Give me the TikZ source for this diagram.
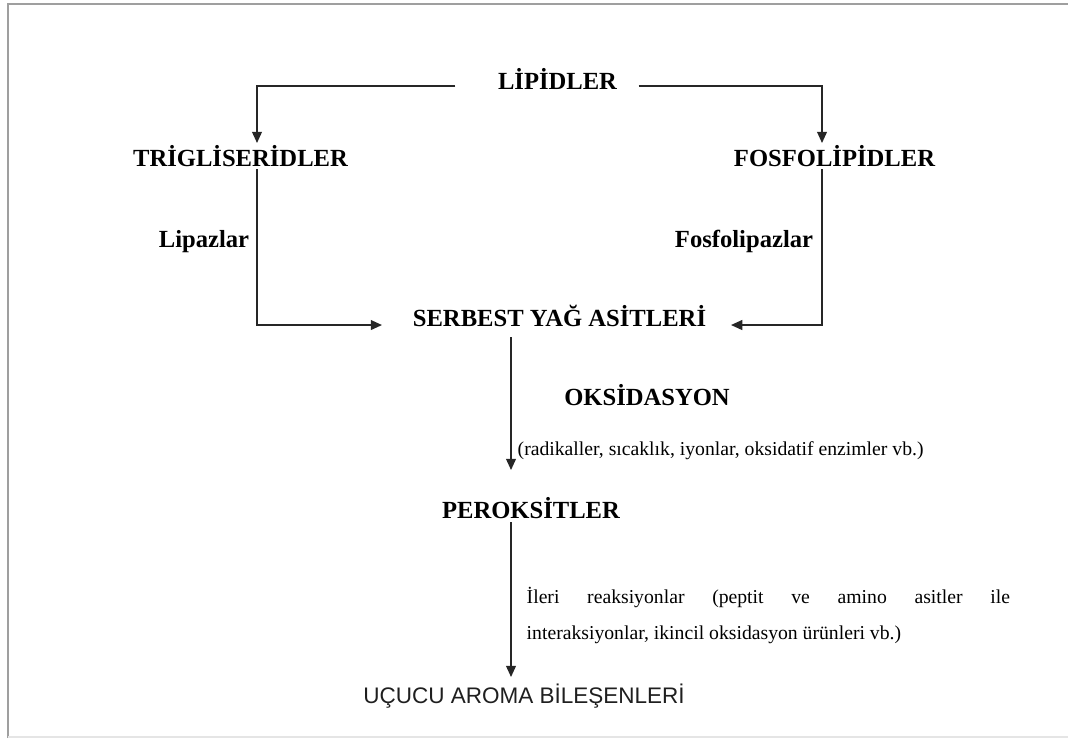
\documentclass[tikz,border=0pt]{standalone}
\usepackage{fontspec}
\setmainfont{Liberation Serif}
\newfontfamily\arialfont{Liberation Sans}
\usetikzlibrary{arrows.meta}
\tikzset{>={Triangle[length=3.2pt,width=2.8pt]}}
\tikzstyle{head} = [font=\fontsize{7}{8.4}\selectfont\bfseries, inner sep=0pt, anchor=base]
\tikzstyle{note} = [font=\fontsize{5.6}{7}\selectfont, inner sep=0pt, anchor=base west]
\tikzstyle{flow} = [->, line width=0.45pt, black!85]

\begin{document}
\begin{tikzpicture}[x=0.01cm,y=-0.01cm]
\useasboundingbox (0,0) rectangle (1068,738);
    %frame
    \draw [gray!75, line width=0.6pt] (8,738) -- (8,4) -- (1068,4);
    \draw [gray!20, line width=0.6pt] (8,737) -- (1068,737);
    %labels
    \node[head] (lip) at (557.5,89) {LİPİDLER};
    \node[head] (trig) at (240.5,166) {TRİGLİSERİDLER};
    \node[head] (fosf) at (834.5,166) {FOSFOLİPİDLER};
    \node[head] (lipaz) at (204,247) {Lipazlar};
    \node[head] (fosfaz) at (744,247) {Fosfolipazlar};
    \node[head] (sya) at (559.5,326) {SERBEST YAĞ ASİTLERİ};
    \node[head] (oks) at (647,405) {OKSİDASYON};
    \node[note] (oksnote) at (517,455) {(radikaller, sıcaklık, iyonlar, oksidatif enzimler vb.)};
    \node[head] (per) at (531,518) {PEROKSİTLER};
    \node[note] (pernote) at (526,603) {\makebox[4.83cm][s]{İleri reaksiyonlar (peptit ve amino asitler ile}};
    \node[note] (pernote2) at ([yshift=-0.36cm]pernote.base west) {interaksiyonlar, ikincil oksidasyon ürünleri vb.)};
    \node[anchor=base, inner sep=0pt, black!88, font=\arialfont\fontsize{6.4}{7.5}\selectfont] (ucucu) at (524,703) {UÇUCU AROMA BİLEŞENLERİ};
    %corners
    \coordinate (lipL) at ([xshift=-0.42cm,yshift=0.03cm]lip.base west);
    \coordinate (lipR) at ([xshift=0.21cm,yshift=0.03cm]lip.base east);
    \coordinate (trigT) at (257,143);
    \coordinate (fosfT) at (822,143);
    \coordinate (syaL) at (382,325);
    \coordinate (syaR) at (731,325);
    \coordinate (perT) at (511,470);
    \coordinate (ucT) at (511,677);
    %lines
    \draw [flow] (lipL) -| (trigT);
    \draw [flow] (lipR) -| (fosfT);
    \draw [flow] (trig.base -| trigT) ++(0,3) |- (syaL);
    \draw [flow] (fosf.base -| fosfT) ++(0,3) |- (syaR);
    \draw [flow] (sya.base -| perT) ++(0,11) -- (perT);
    \draw [flow] (per.base -| ucT) ++(0,4) -- (ucT);
\end{tikzpicture}
\end{document}
